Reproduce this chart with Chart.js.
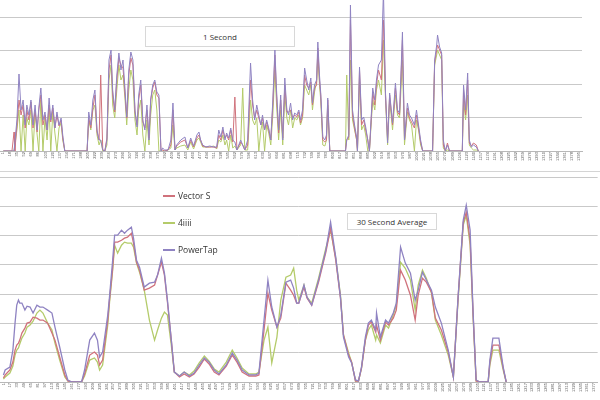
<!DOCTYPE html>
<html><head><meta charset="utf-8">
<script src="https://cdn.jsdelivr.net/npm/chart.js@4.4.1/dist/chart.umd.min.js"></script>
<style>
html,body{margin:0;padding:0;background:#fff;width:600px;height:400px;overflow:hidden;font-family:"Open Sans","Liberation Sans",sans-serif}
canvas{position:absolute;left:0}
#topC{top:0}
#botC{top:172px}
.frame{position:absolute;left:0;width:600px;height:1px;background:#d4d4d4}
.box{position:absolute;border:1px solid #d8d8d8;background:#fff;color:#333;font-size:8px;display:flex;align-items:center;justify-content:center;box-sizing:border-box}
#legend{position:absolute;left:163px;top:182px;font-size:8.5px;color:#333}
.li{display:flex;align-items:center;height:27px;margin:0}
.sw{display:inline-block;width:12px;height:2px;margin-right:3px}
</style></head>
<body>
<canvas id="topC" width="600" height="172"></canvas>
<canvas id="botC" width="600" height="228"></canvas>
<div class="frame" style="top:171px"></div>
<div class="box" style="left:145px;top:26px;width:150px;height:21px">1 Second</div>
<div class="box" style="left:347px;top:213px;width:90px;height:17px">30 Second Average</div>
<div id="legend"></div>
<script>
// ---------- 1 Second panel ----------
const topSeconds = [
1,22,27,29,34,39,44,49,54,58,
63,68,73,78,83,87,92,97,102,107,
112,116,121,126,131,136,141,145,150,204,
208,213,218,223,228,233,237,242,247,252,
257,262,266,271,276,281,286,291,296,300,
305,310,315,320,325,329,334,339,344,349,
354,358,363,368,373,378,383,387,392,400,
407,412,417,421,431,441,448,455,462,470,
475,479,484,492,501,511,518,523,528,533,
538,542,547,552,557,562,567,576,581,586,
593,600,605,610,615,620,625,629,634,639,
644,649,654,659,663,668,673,678,683,688,
692,697,702,707,712,717,721,726,731,736,
741,746,750,755,760,763,767,770,775,780,
784,787,792,830,833,838,842,847,852,857,
859,864,869,874,879,884,888,896,901,905,
910,917,922,927,932,937,944,951,956,961,
968,973,980,985,990,997,1002,1007,1012,1017,
1041,1046,1051,1053,1058,1063,1067,1072,1077,1082,
1113,1116,1121,1126,1130,1135,1140,1147,1152];
const topVectorS = [
0,0,114,0,156,306,216,276,138,246,
186,294,138,246,114,246,336,156,216,126,
276,174,258,138,216,150,186,78,0,0,
198,138,258,336,114,66,456,6,0,78,
486,576,336,234,426,558,516,498,336,198,
456,558,516,234,156,306,396,174,138,246,
78,306,378,414,336,318,6,6,0,6,
36,246,6,30,54,66,18,66,24,78,
96,66,30,24,24,24,18,96,66,126,
78,96,66,126,54,324,6,54,36,6,
36,426,276,198,246,198,156,198,126,174,
126,66,276,576,336,108,306,78,396,234,
234,246,198,216,204,234,168,216,456,396,
378,414,276,378,396,618,426,336,66,54,
66,306,0,0,66,84,786,216,138,66,
0,486,156,186,126,66,0,354,276,396,
486,426,786,336,66,336,156,378,234,216,
666,66,258,198,174,138,216,138,54,0,
0,534,606,636,606,576,36,0,48,0,
0,366,216,426,48,30,48,36,0];
const top4iiii = [
0,0,0,0,126,246,0,216,0,198,
156,246,0,234,96,0,306,0,198,66,
258,0,234,108,0,138,168,66,0,0,
186,126,246,276,96,36,66,0,0,36,
426,516,276,198,366,516,426,456,306,156,
366,486,426,186,96,246,306,96,0,186,
36,216,336,366,246,0,0,0,0,6,
18,156,6,18,30,36,6,54,12,66,
78,54,24,24,24,30,12,66,54,96,
36,66,0,96,18,30,6,36,378,6,
6,306,186,156,198,0,126,174,0,156,
108,36,216,486,276,66,246,36,336,198,
156,246,138,198,186,216,156,198,396,366,
336,396,246,354,414,576,396,306,36,30,
66,276,0,0,456,66,546,186,126,66,
0,426,126,156,96,0,0,306,246,366,
426,336,666,306,36,306,126,336,216,198,
546,36,234,186,156,0,186,126,36,0,
0,516,576,606,576,546,18,0,6,0,
0,306,186,336,36,18,6,6,0];
const topPowerTap = [
0,0,0,0,186,462,246,306,156,276,
216,306,156,276,126,258,378,186,234,126,
318,186,276,138,234,156,198,96,0,0,
234,156,306,366,126,66,66,6,0,66,
546,606,366,246,456,588,486,546,366,204,
486,594,546,246,144,336,426,186,126,276,
66,306,396,426,354,336,0,18,6,6,
66,288,6,36,66,84,18,78,30,96,
114,66,36,24,30,24,24,126,84,144,
66,108,78,138,66,54,6,66,36,6,
66,528,306,186,276,216,156,216,126,186,
138,66,306,606,366,126,336,66,438,246,
216,288,186,228,216,246,186,246,498,426,
366,438,288,396,426,654,456,348,84,66,
96,318,0,0,66,96,876,246,156,84,
0,504,186,204,144,66,0,378,306,426,
516,546,960,348,48,348,168,408,246,228,
714,66,288,216,198,156,246,156,66,0,
0,546,636,696,624,588,66,0,36,0,
0,396,246,468,66,24,36,24,0];
const topTickLabels = [
1,18,35,52,69,86,103,120,137,154,
171,188,205,222,239,256,273,290,307,324,
341,358,375,392,409,426,443,460,477,494,
511,528,545,562,579,596,613,630,647,664,
681,698,715,732,749,766,783,800,817,834,
851,868,885,902,919,936,953,970,987,1004,
1021,1038,1055,1072,1089,1106,1123,1140,1157,1174,
1191,1208,1225,1242,1259,1276,1293,1310,1327,1344,
1361,1378,1395];

// ---------- 30 Second Average panel ----------
const bottomSeconds = [
1,5,16,23,28,32,36,39,44,51,
56,63,70,79,86,93,104,114,121,132,
144,151,160,183,190,202,213,220,225,232,
244,248,255,260,267,276,283,290,299,304,
311,318,329,341,353,360,369,376,383,392,
399,411,422,434,445,457,469,480,492,503,
520,534,545,557,573,589,596,608,617,626,
638,647,659,670,677,684,689,701,708,719,
735,752,763,775,786,793,805,812,821,828,
835,844,851,858,868,870,879,891,898,909,
916,926,937,949,960,967,977,986,998,1007,
1021,1037,1049,1060,1072,1079,1088,1095,1102,1111,
1130,1134,1141,1155,1165,1172];
const bottomVectorS = [
27,48,82,136,218,252,266,286,334,368,
402,409,443,436,423,423,402,334,286,171,
48,7,0,0,55,184,205,184,116,150,
423,559,764,955,955,968,982,989,1016,948,
818,764,627,641,662,730,818,730,546,286,
68,34,55,34,55,102,157,123,68,48,
109,184,136,68,41,41,48,355,607,491,
375,436,675,627,593,539,539,648,573,525,
682,887,1050,832,573,321,184,136,7,7,
95,286,389,409,341,389,286,409,389,436,
491,764,696,593,423,593,709,682,614,436,
355,205,34,580,1091,1159,968,457,7,0,
0,136,252,252,95,0];
const bottom4iiii = [
20,34,61,109,184,218,232,259,300,334,
375,389,416,471,491,471,402,355,266,150,
34,7,0,0,41,150,164,136,82,116,
389,539,750,934,880,934,955,948,948,921,
812,750,627,423,286,355,436,477,457,252,
68,41,68,48,75,130,177,143,89,68,
136,218,164,95,55,55,68,286,375,130,
307,559,716,730,777,627,559,662,580,539,
709,914,1037,846,593,321,198,136,7,7,
95,286,355,389,286,321,266,389,368,457,
525,818,777,696,491,662,764,709,607,423,
321,184,34,559,1071,1139,934,436,7,0,
0,116,218,218,82,0];
const bottomPowerTap = [
48,82,102,218,402,525,559,539,539,491,
518,512,471,525,512,512,491,471,375,239,
82,14,0,0,82,286,334,286,171,205,
457,580,818,1003,1003,1037,1016,1037,1057,982,
832,784,648,675,682,730,846,743,559,286,
68,41,68,41,61,116,164,136,82,55,
116,198,150,82,48,48,61,423,696,512,
375,457,682,696,641,539,539,662,580,525,
696,900,1091,853,580,307,171,130,14,7,
102,307,402,423,355,471,307,423,402,471,
539,921,812,743,559,627,750,696,627,512,
402,218,34,580,1105,1207,1037,471,14,0,
0,150,300,300,102,0];
const bottomTickLabels = [
1,17,33,49,65,81,97,113,129,145,
161,177,193,209,225,241,257,273,289,305,
321,337,353,369,385,401,417,433,449,465,
481,497,513,529,545,561,577,593,609,625,
641,657,673,689,705,721,737,753,769,785,
801,817,833,849,865,881,897,913,929,945,
961,977,993,1009,1025,1041,1057,1073,1089,1105,
1121,1137,1153,1169,1185,1201,1217,1233,1249,1265,
1281,1297,1313,1329,1345,1361,1377];

const seriesNames = ['Vector S', '4iiii', 'PowerTap'];
const seriesColors = ['#d0727c', '#b4cb6a', '#8f83c2'];
const seriesOrder = [1, 2, 0];

function pts(xs, ys) { return xs.map((x, i) => ({ x: x, y: ys[i] })); }

function makeChart(id, xs, series, ticks, xMin, xMax, yMax, pad, axisH, lw) {
  return new Chart(document.getElementById(id), {
    type: 'line',
    data: {
      datasets: series.map((s, i) => ({
        label: seriesNames[i],
        data: pts(xs, s),
        borderColor: seriesColors[i],
        backgroundColor: seriesColors[i],
        borderWidth: lw,
        pointRadius: 0,
        tension: 0,
        fill: false,
        order: seriesOrder[i]
      }))
    },
    options: {
      responsive: false,
      animation: false,
      layout: { padding: pad },
      plugins: { legend: { display: false }, tooltip: { enabled: false } },
      scales: {
        x: {
          type: 'linear', min: xMin, max: xMax,
          afterBuildTicks: (sc) => { sc.ticks = ticks.map(v => ({ value: v })); },
          afterFit: (sc) => { sc.height = axisH; },
          grid: { display: false, drawTicks: false, tickLength: 0 },
          border: { display: true, color: '#b8b8b8', width: 1 },
          ticks: {
            autoSkip: false, minRotation: 90, maxRotation: 90, padding: 1,
            color: '#555', font: { size: 4, family: 'Liberation Sans' },
            callback: (v) => String(v)
          }
        },
        y: {
          min: 0, max: yMax,
          afterFit: (sc) => { sc.width = 0; },
          ticks: { display: false, stepSize: 200 },
          border: { display: false },
          grid: {
            drawTicks: false, tickLength: 0, lineWidth: 1,
            color: (c) => (c.tick && c.tick.value % 200 === 0) ? '#c9c9c9' : 'rgba(0,0,0,0)'
          }
        }
      }
    }
  });
}

const topChart = makeChart('topC', topSeconds, [topVectorS, top4iiii, topPowerTap], topTickLabels,
  -7, 1403, 906, { left: 0, right: 18, top: 0, bottom: 0 }, 21, 1);
const botChart = makeChart('botC', bottomSeconds, [bottomVectorS, bottom4iiii, bottomPowerTap], bottomTickLabels,
  -7, 1385, 1400, { left: 0, right: 0, top: 5, bottom: 0 }, 18, 1.3);

// legend built from the datasets
const lg = document.getElementById('legend');
botChart.data.datasets.forEach((d) => {
  const row = document.createElement('div');
  row.className = 'li';
  const sw = document.createElement('span');
  sw.className = 'sw';
  sw.style.background = d.borderColor;
  const tx = document.createElement('span');
  tx.textContent = d.label;
  row.appendChild(sw); row.appendChild(tx);
  lg.appendChild(row);
});
</script>
</body></html>
